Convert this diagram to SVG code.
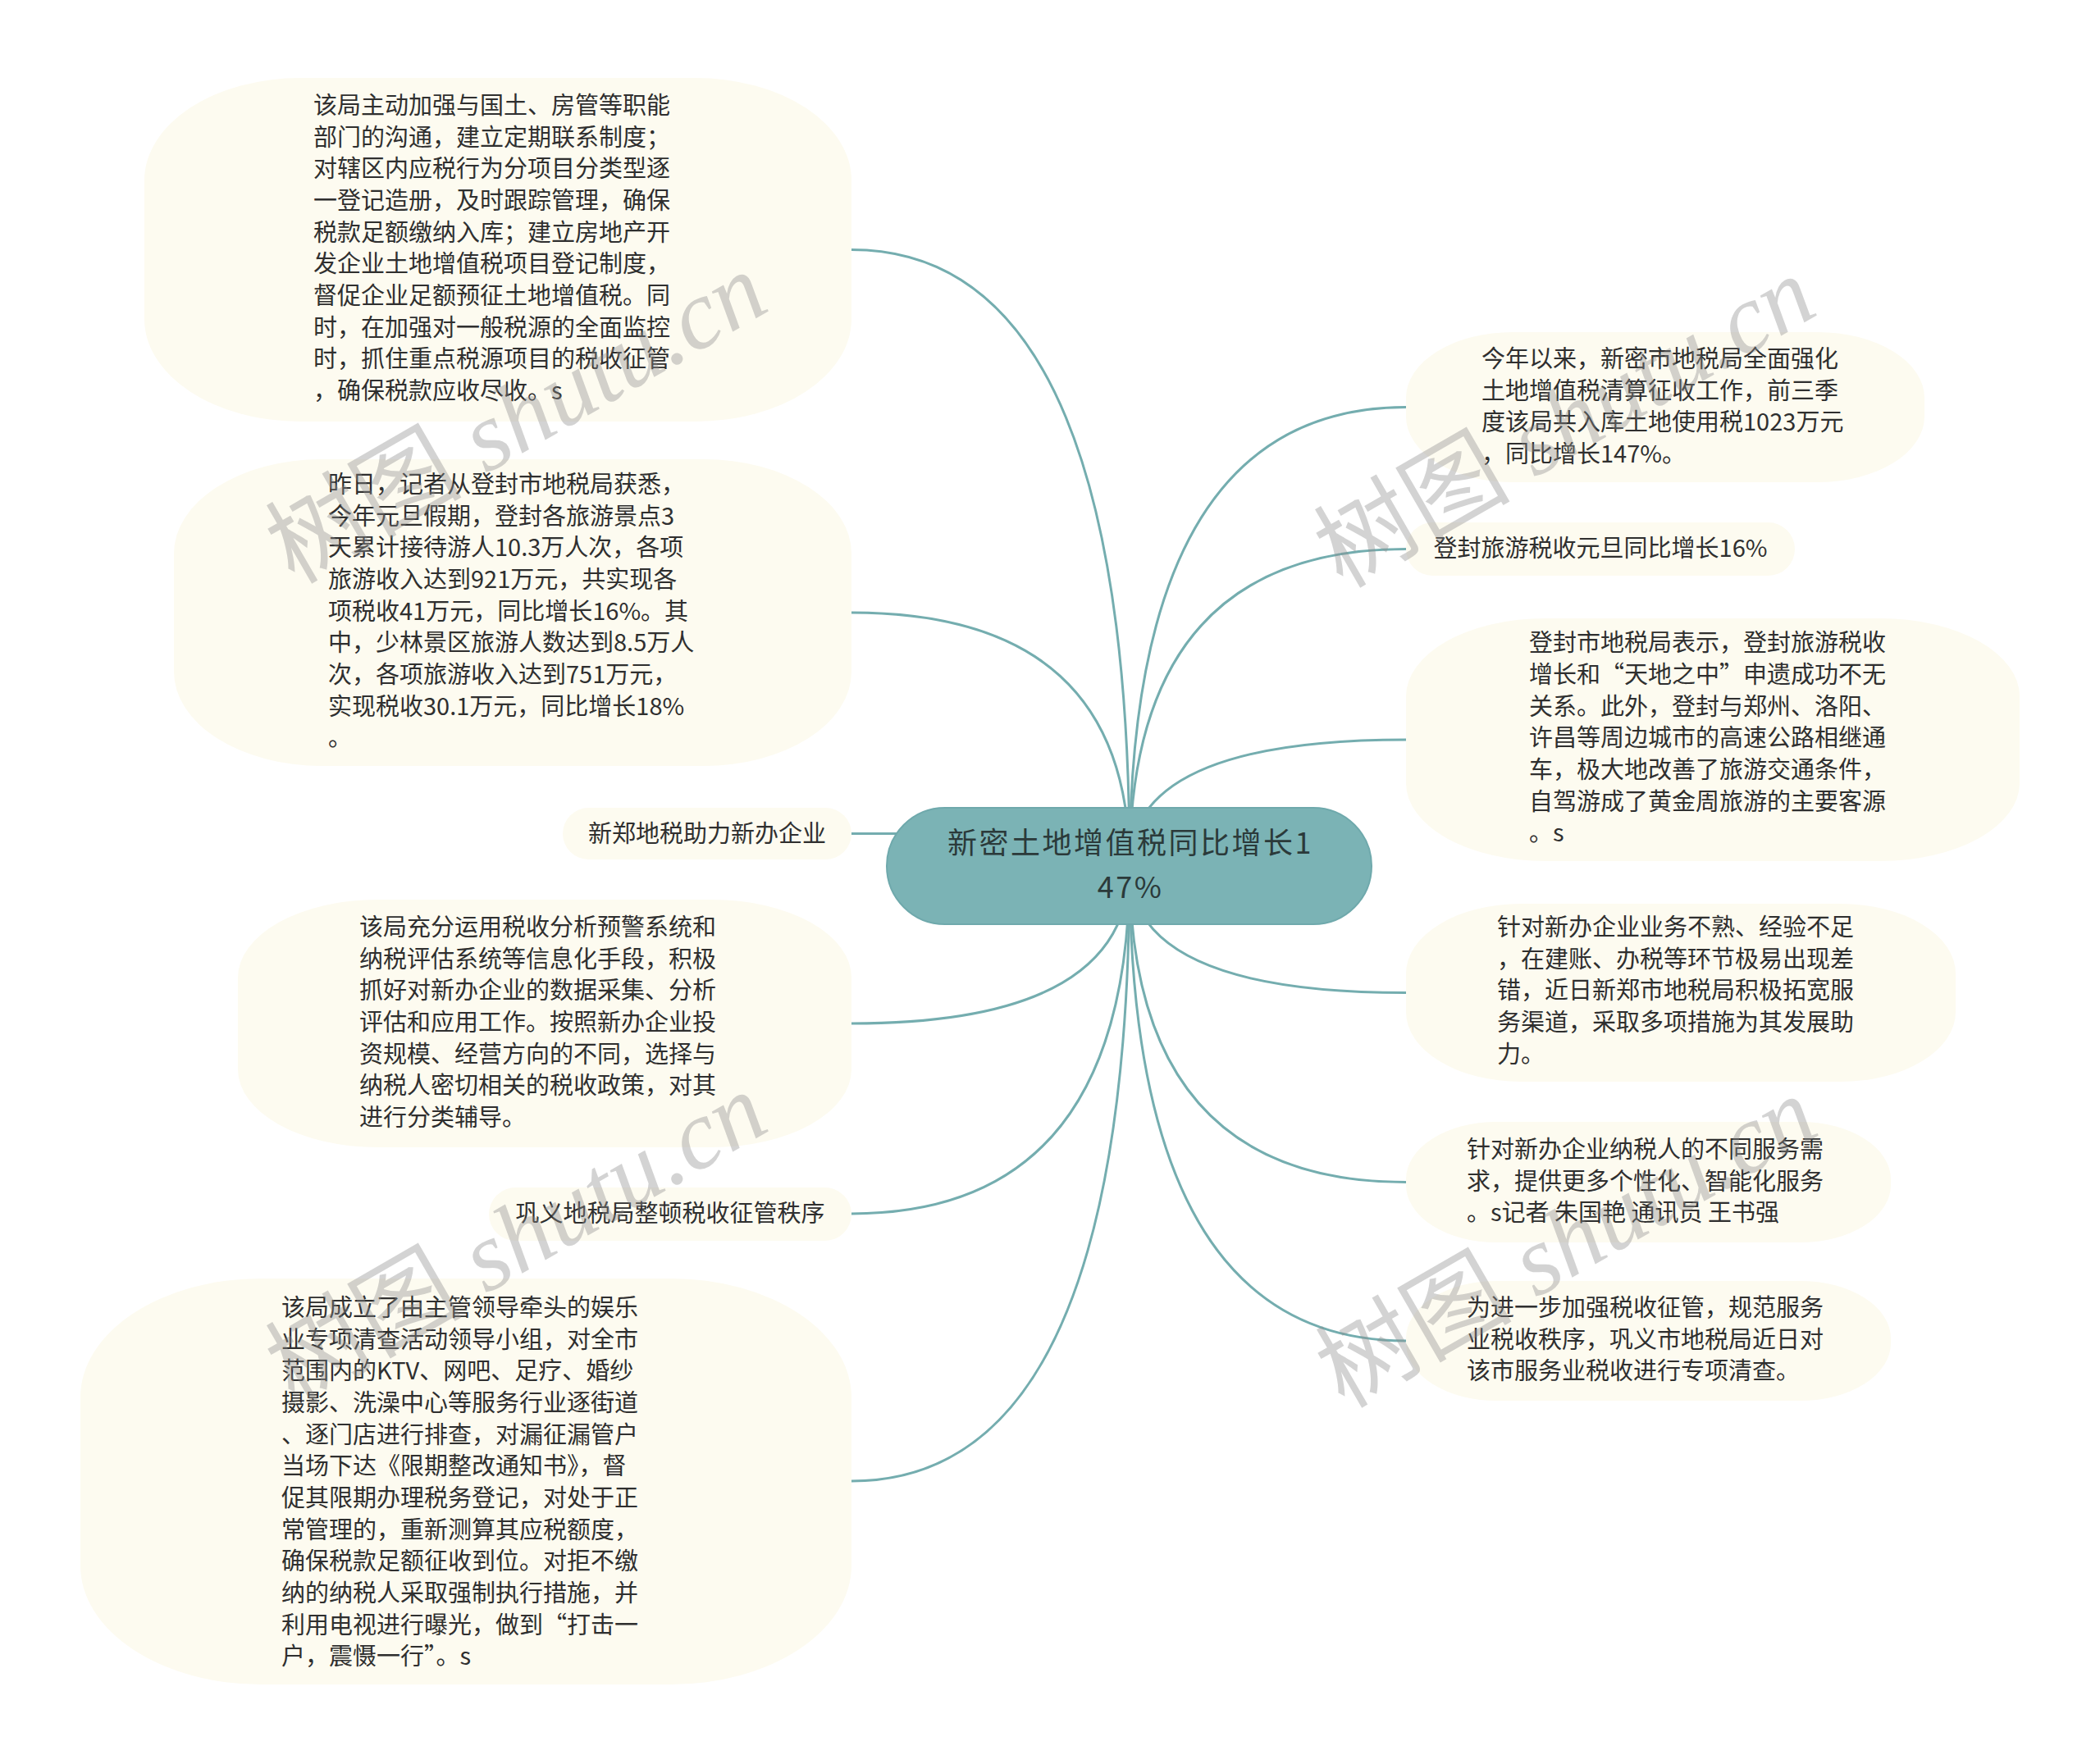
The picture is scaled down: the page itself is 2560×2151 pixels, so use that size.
<svg xmlns="http://www.w3.org/2000/svg" width="2560" height="2151" viewBox="0 0 2560 2151">
<style>
.leaf{fill:#fdfbf0;stroke:none}
.t{font-family:"Noto Sans CJK SC","Noto Sans",sans-serif;font-size:29px;fill:#2f2f2f}
.tc{font-family:"Noto Sans CJK SC","Noto Sans",sans-serif;font-size:36px;letter-spacing:2.5px;fill:#2b3a3a;text-anchor:middle}
.mid{text-anchor:middle}
.edge{fill:none;stroke:#74adaf;stroke-width:3}
.wm{font-size:120px;fill:#8c8c8c;fill-opacity:0.38;text-anchor:middle}
.wm1{font-family:"Noto Sans CJK SC",sans-serif}
.wm2{font-family:"Liberation Serif",serif;font-style:italic}
</style>
<rect width="2560" height="2151" fill="#ffffff"/>
<g id="connectors">
<path class="edge" d="M1377 1056 Q1377 304.5 1038 304.5"/>
<path class="edge" d="M1377 1056 Q1377 747 1038 747"/>
<path class="edge" d="M1377 1016.5 L1038 1016.5"/>
<path class="edge" d="M1377 1056 Q1377 1248 1038 1248"/>
<path class="edge" d="M1377 1056 Q1377 1480 1038 1480"/>
<path class="edge" d="M1377 1056 Q1377 1806 1038 1806"/>
<path class="edge" d="M1377 1056 Q1377 496.5 1714 496.5"/>
<path class="edge" d="M1377 1056 Q1377 669.5 1714 669.5"/>
<path class="edge" d="M1377 1056 Q1377 902 1714 902"/>
<path class="edge" d="M1377 1056 Q1377 1210.5 1714 1210.5"/>
<path class="edge" d="M1377 1056 Q1377 1441.5 1714 1441.5"/>
<path class="edge" d="M1377 1056 Q1377 1635 1714 1635"/>
</g>
<g id="root">
<rect x="1081" y="985" width="591" height="142" rx="71" ry="71" fill="#7bb3b5" stroke="#6fa9ac" stroke-width="2"/>
<text class="tc" x="1378" y="1041">新密土地增值税同比增长1</text>
<text class="tc" x="1378" y="1095">47%</text>
</g>
<g id="node-l1">
<rect class="leaf" x="176" y="95" width="862" height="419" rx="190" ry="125"/>
<text class="t" x="382" y="139">该局主动加强与国土、房管等职能</text>
<text class="t" x="382" y="178">部门的沟通，建立定期联系制度；</text>
<text class="t" x="382" y="216">对辖区内应税行为分项目分类型逐</text>
<text class="t" x="382" y="255">一登记造册，及时跟踪管理，确保</text>
<text class="t" x="382" y="294">税款足额缴纳入库；建立房地产开</text>
<text class="t" x="382" y="332">发企业土地增值税项目登记制度，</text>
<text class="t" x="382" y="371">督促企业足额预征土地增值税。同</text>
<text class="t" x="382" y="410">时，在加强对一般税源的全面监控</text>
<text class="t" x="382" y="448">时，抓住重点税源项目的税收征管</text>
<text class="t" x="382" y="487">，确保税款应收尽收。s</text>
</g>
<g id="node-l2">
<rect class="leaf" x="212" y="560" width="826" height="374" rx="180" ry="115"/>
<text class="t" x="400" y="601">昨日，记者从登封市地税局获悉，</text>
<text class="t" x="400" y="640">今年元旦假期，登封各旅游景点3</text>
<text class="t" x="400" y="678">天累计接待游人10.3万人次，各项</text>
<text class="t" x="400" y="717">旅游收入达到921万元，共实现各</text>
<text class="t" x="400" y="756">项税收41万元，同比增长16%。其</text>
<text class="t" x="400" y="794">中，少林景区旅游人数达到8.5万人</text>
<text class="t" x="400" y="833">次，各项旅游收入达到751万元，</text>
<text class="t" x="400" y="872">实现税收30.1万元，同比增长18%</text>
<text class="t" x="400" y="910">。</text>
</g>
<g id="node-l3">
<rect class="leaf" x="686" y="985" width="352" height="63" rx="31.5" ry="31.5"/>
<text class="t mid" x="862" y="1027">新郑地税助力新办企业</text>
</g>
<g id="node-l4">
<rect class="leaf" x="290" y="1097" width="748" height="302" rx="170" ry="95"/>
<text class="t" x="438" y="1141">该局充分运用税收分析预警系统和</text>
<text class="t" x="438" y="1180">纳税评估系统等信息化手段，积极</text>
<text class="t" x="438" y="1218">抓好对新办企业的数据采集、分析</text>
<text class="t" x="438" y="1257">评估和应用工作。按照新办企业投</text>
<text class="t" x="438" y="1296">资规模、经营方向的不同，选择与</text>
<text class="t" x="438" y="1334">纳税人密切相关的税收政策，对其</text>
<text class="t" x="438" y="1373">进行分类辅导。</text>
</g>
<g id="node-l5">
<rect class="leaf" x="596" y="1448" width="442" height="65" rx="32.5" ry="32.5"/>
<text class="t mid" x="817" y="1490">巩义地税局整顿税收征管秩序</text>
</g>
<g id="node-l6">
<rect class="leaf" x="98" y="1559" width="940" height="495" rx="220" ry="145"/>
<text class="t" x="343" y="1605">该局成立了由主管领导牵头的娱乐</text>
<text class="t" x="343" y="1644">业专项清查活动领导小组，对全市</text>
<text class="t" x="343" y="1682">范围内的KTV、网吧、足疗、婚纱</text>
<text class="t" x="343" y="1721">摄影、洗澡中心等服务行业逐街道</text>
<text class="t" x="343" y="1760">、逐门店进行排查，对漏征漏管户</text>
<text class="t" x="343" y="1798">当场下达《限期整改通知书》，督</text>
<text class="t" x="343" y="1837">促其限期办理税务登记，对处于正</text>
<text class="t" x="343" y="1876">常管理的，重新测算其应税额度，</text>
<text class="t" x="343" y="1914">确保税款足额征收到位。对拒不缴</text>
<text class="t" x="343" y="1953">纳的纳税人采取强制执行措施，并</text>
<text class="t" x="343" y="1992">利用电视进行曝光，做到“打击一</text>
<text class="t" x="343" y="2030">户，震慑一行”。s</text>
</g>
<g id="node-r1">
<rect class="leaf" x="1714" y="405" width="632" height="183" rx="130" ry="80"/>
<text class="t" x="1806" y="448">今年以来，新密市地税局全面强化</text>
<text class="t" x="1806" y="487">土地增值税清算征收工作，前三季</text>
<text class="t" x="1806" y="525">度该局共入库土地使用税1023万元</text>
<text class="t" x="1806" y="564">，同比增长147%。</text>
</g>
<g id="node-r2">
<rect class="leaf" x="1714" y="637" width="474" height="65" rx="32.5" ry="32.5"/>
<text class="t mid" x="1951" y="679">登封旅游税收元旦同比增长16%</text>
</g>
<g id="node-r3">
<rect class="leaf" x="1714" y="754" width="748" height="296" rx="170" ry="95"/>
<text class="t" x="1864" y="794">登封市地税局表示，登封旅游税收</text>
<text class="t" x="1864" y="833">增长和“天地之中”申遗成功不无</text>
<text class="t" x="1864" y="872">关系。此外，登封与郑州、洛阳、</text>
<text class="t" x="1864" y="910">许昌等周边城市的高速公路相继通</text>
<text class="t" x="1864" y="949">车，极大地改善了旅游交通条件，</text>
<text class="t" x="1864" y="988">自驾游成了黄金周旅游的主要客源</text>
<text class="t" x="1864" y="1026">。s</text>
</g>
<g id="node-r4">
<rect class="leaf" x="1714" y="1102" width="670" height="217" rx="140" ry="85"/>
<text class="t" x="1825" y="1141">针对新办企业业务不熟、经验不足</text>
<text class="t" x="1825" y="1180">，在建账、办税等环节极易出现差</text>
<text class="t" x="1825" y="1218">错，近日新郑市地税局积极拓宽服</text>
<text class="t" x="1825" y="1257">务渠道，采取多项措施为其发展助</text>
<text class="t" x="1825" y="1296">力。</text>
</g>
<g id="node-r5">
<rect class="leaf" x="1714" y="1368" width="591" height="147" rx="110" ry="70"/>
<text class="t" x="1788" y="1412">针对新办企业纳税人的不同服务需</text>
<text class="t" x="1788" y="1451">求，提供更多个性化、智能化服务</text>
<text class="t" x="1788" y="1489">。s记者 朱国艳 通讯员 王书强</text>
</g>
<g id="node-r6">
<rect class="leaf" x="1714" y="1562" width="591" height="146" rx="110" ry="70"/>
<text class="t" x="1788" y="1605">为进一步加强税收征管，规范服务</text>
<text class="t" x="1788" y="1644">业税收秩序，巩义市地税局近日对</text>
<text class="t" x="1788" y="1682">该市服务业税收进行专项清查。</text>
</g>
<g id="watermarks">
<text class="wm" transform="translate(650 545) rotate(-30)"><tspan class="wm1">树图</tspan><tspan class="wm2"> shutu.cn</tspan></text>
<text class="wm" transform="translate(650 1545) rotate(-30)"><tspan class="wm1">树图</tspan><tspan class="wm2"> shutu.cn</tspan></text>
<text class="wm" transform="translate(1928 550) rotate(-30)"><tspan class="wm1">树图</tspan><tspan class="wm2"> shutu.cn</tspan></text>
<text class="wm" transform="translate(1930 1550) rotate(-30)"><tspan class="wm1">树图</tspan><tspan class="wm2"> shutu.cn</tspan></text>
</g>
</svg>
